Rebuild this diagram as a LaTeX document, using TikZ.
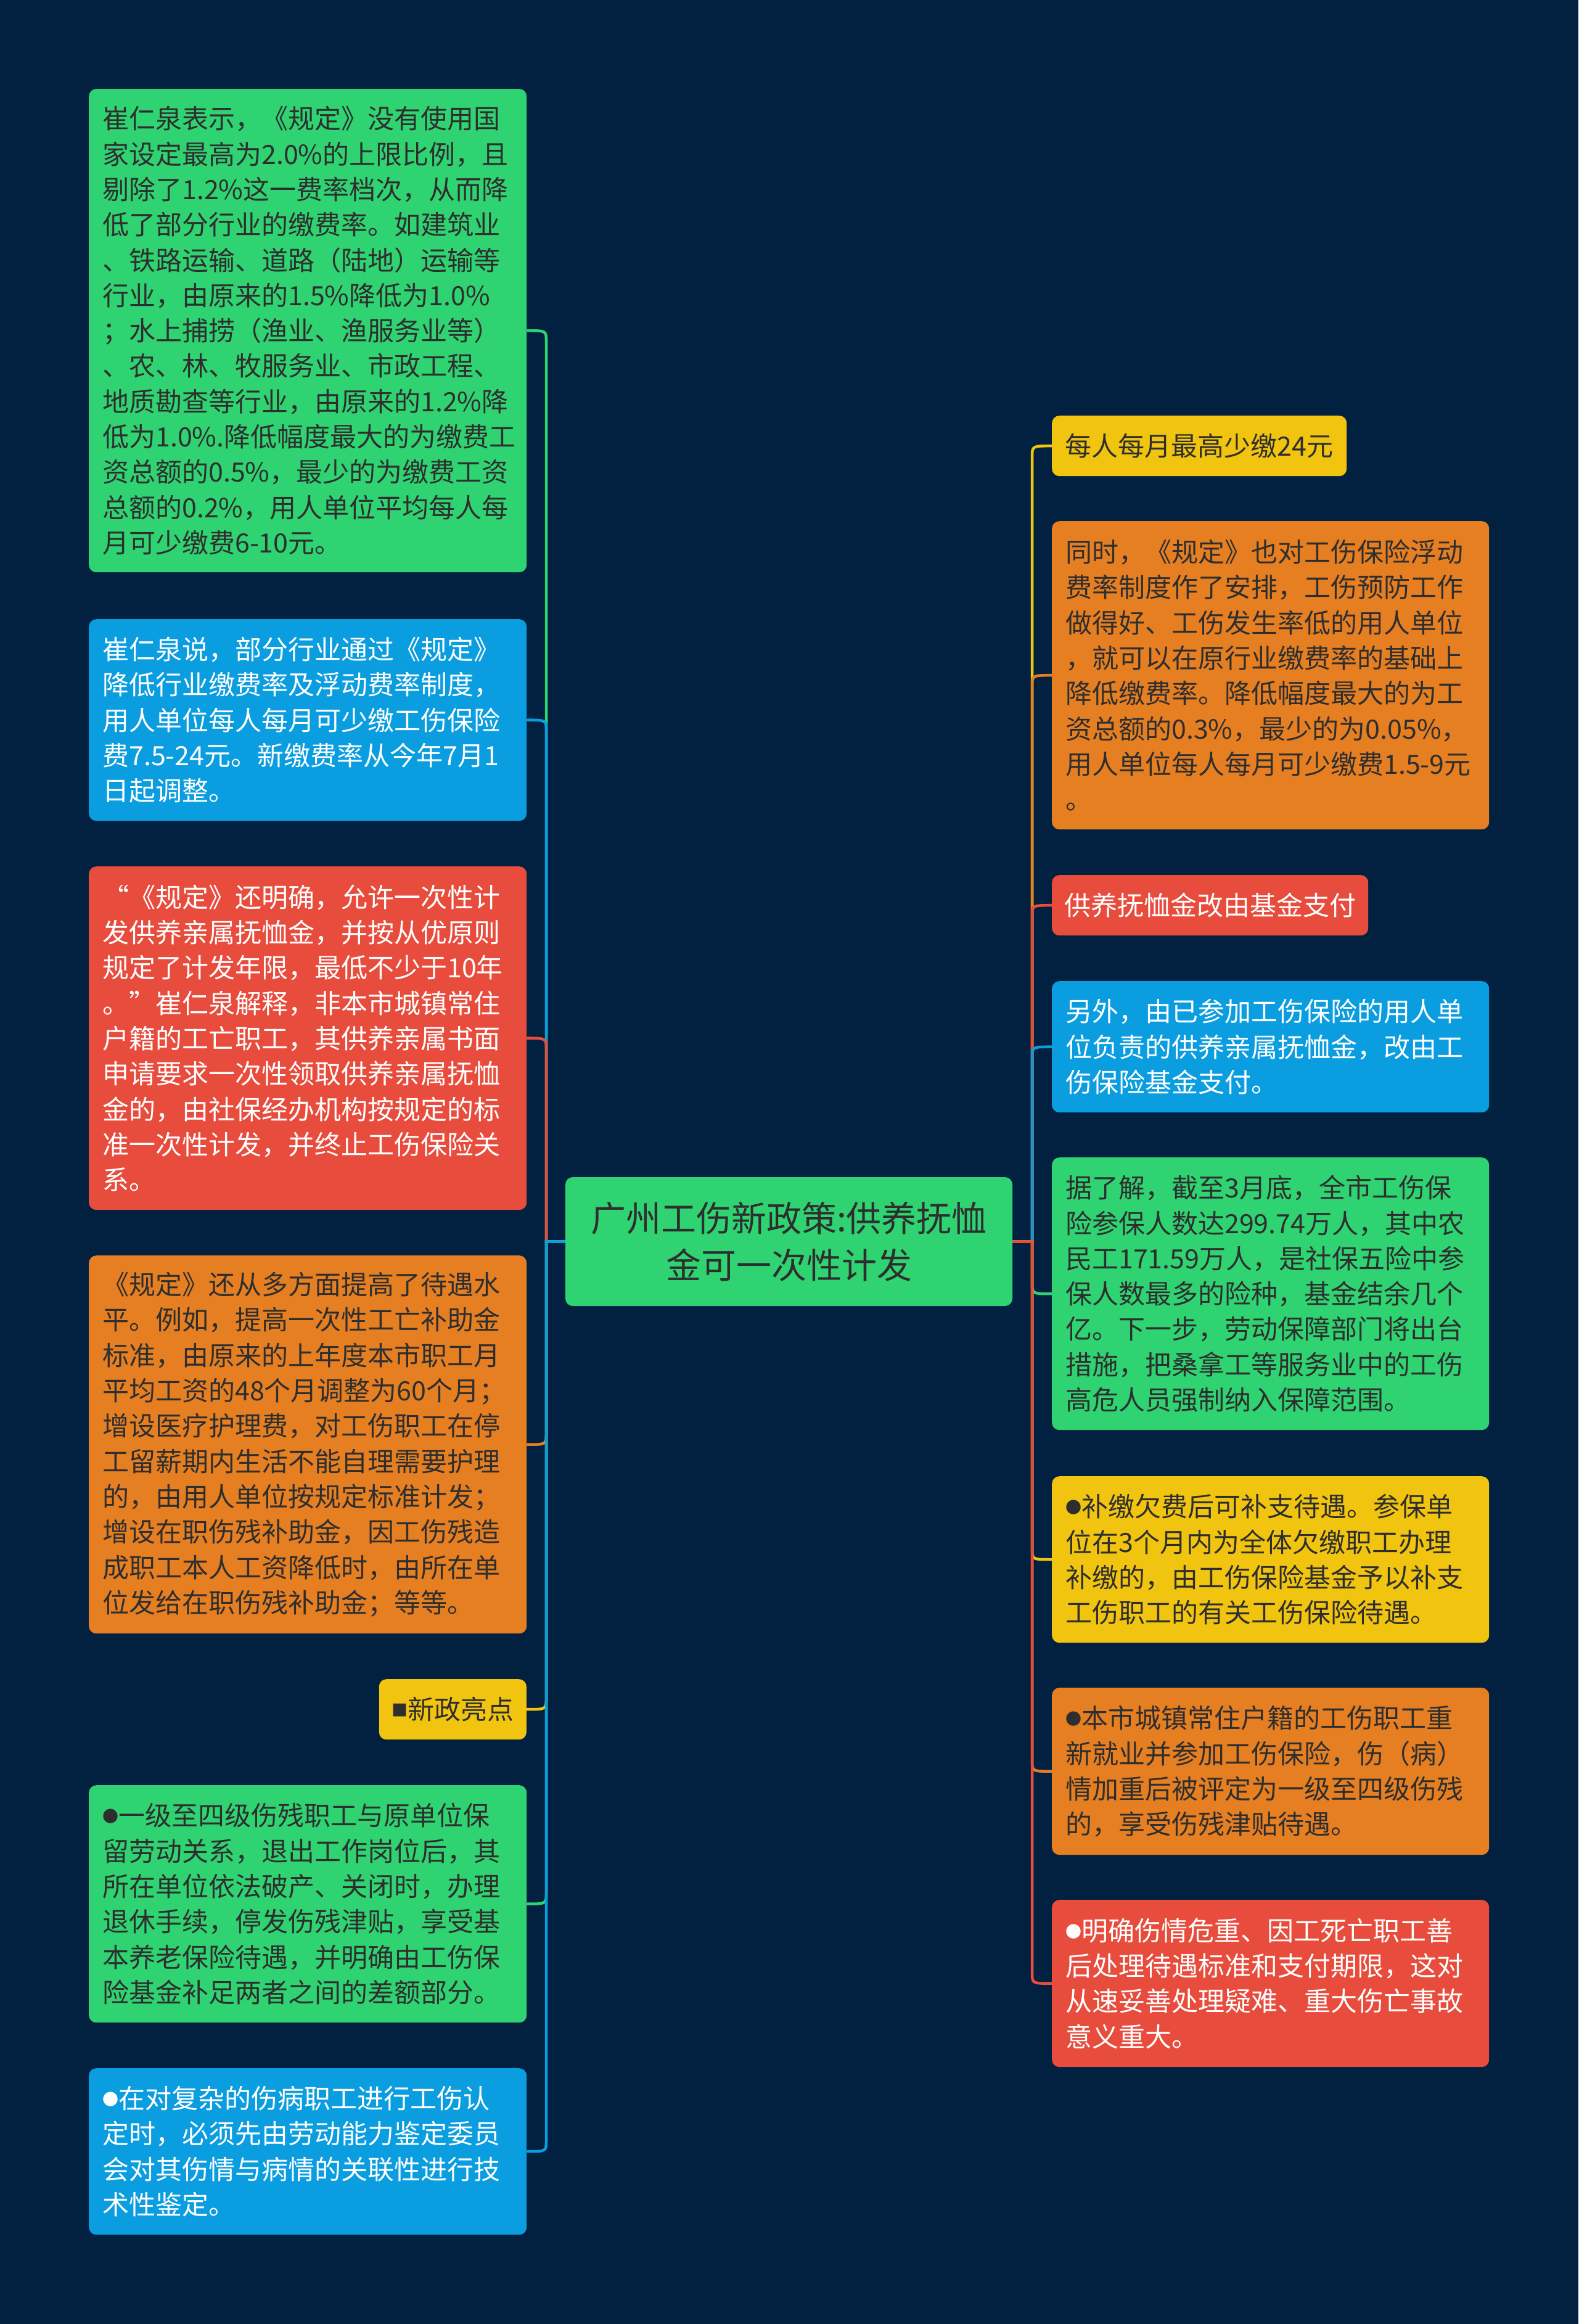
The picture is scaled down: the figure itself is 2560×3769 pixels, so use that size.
\documentclass[tikz,border=0pt]{standalone}
\usepackage{fontspec}
\newfontfamily\cjk{Noto Sans CJK SC}
\usetikzlibrary{calc}
\definecolor{cbg}{HTML}{022140}
\definecolor{cgreen}{HTML}{2FD372}
\definecolor{cblue}{HTML}{0A9DE0}
\definecolor{cred}{HTML}{E84C3D}
\definecolor{corange}{HTML}{E67F22}
\definecolor{cyellow}{HTML}{F1C40F}
\definecolor{cdark}{HTML}{2E2E2E}
\newcommand\mydot{\raisebox{5pt}{\fontsize{26}{26}\selectfont ●}}
\newcommand\mysq{\raisebox{5pt}{\fontsize{26}{26}\selectfont ■}}
\tikzset{
  box/.style={rounded corners=12pt, anchor=north west, align=left, inner xsep=22pt, inner ysep=0pt,
    font=\cjk\fontsize{43}{57.3}\selectfont},
  lbox/.style={box, text width=666pt},
  rbox/.style={box, text width=665pt},
  onebox/.style={rounded corners=12pt, inner xsep=20pt, inner ysep=0pt, minimum height=98pt,
    font=\cjk\fontsize{43}{57.3}\selectfont},
  gbox/.style={fill=cgreen, text=cdark},
  bbox/.style={fill=cblue, text=white},
  rdbox/.style={fill=cred, text=white},
  obox/.style={fill=corange, text=cdark},
  ybox/.style={fill=cyellow, text=cdark},
  conn/.style={line width=4.5pt},
}
\begin{document}
\begin{tikzpicture}[x=1pt, y=-1pt]
\fill[cbg] (0,0) rectangle (2560,3769);
\useasboundingbox (0,0) rectangle (2560,3769);

\coordinate (LT) at (886,0);
\coordinate (RT) at (1674,0);

% root
\node[rounded corners=12pt, fill=cgreen, text=cdark, align=center, minimum width=725pt, minimum height=209pt,
  font=\cjk\fontsize{57}{76}\selectfont] (root) at (1279.5,2013.5) {广州工伤新政策:供养抚恤\\金可一次性计发};

% left children
\node[lbox, gbox, minimum height=784pt] (L1) at (144,144) {崔仁泉表示，《规定》没有使用国\\
家设定最高为2.0\%的上限比例，且\\
剔除了1.2\%这一费率档次，从而降\\
低了部分行业的缴费率。如建筑业\\
、铁路运输、道路（陆地）运输等\\
行业，由原来的1.5\%降低为1.0\%\\
；水上捕捞（渔业、渔服务业等）\\
、农、林、牧服务业、市政工程、\\
地质勘查等行业，由原来的1.2\%降\\
低为1.0\%.降低幅度最大的为缴费工\\
资总额的0.5\%，最少的为缴费工资\\
总额的0.2\%，用人单位平均每人每\\
月可少缴费6-10元。};

\node[lbox, bbox, minimum height=327pt] (L2) at (144,1004) {崔仁泉说，部分行业通过《规定》\\
降低行业缴费率及浮动费率制度，\\
用人单位每人每月可少缴工伤保险\\
费7.5-24元。新缴费率从今年7月1\\
日起调整。};

\node[lbox, rdbox, minimum height=557pt] (L3) at (144,1405) {“《规定》还明确，允许一次性计\\
发供养亲属抚恤金，并按从优原则\\
规定了计发年限，最低不少于10年\\
。”崔仁泉解释，非本市城镇常住\\
户籍的工亡职工，其供养亲属书面\\
申请要求一次性领取供养亲属抚恤\\
金的，由社保经办机构按规定的标\\
准一次性计发，并终止工伤保险关\\
系。};

\node[lbox, obox, minimum height=613pt] (L4) at (144,2036) {《规定》还从多方面提高了待遇水\\
平。例如，提高一次性工亡补助金\\
标准，由原来的上年度本市职工月\\
平均工资的48个月调整为60个月；\\
增设医疗护理费，对工伤职工在停\\
工留薪期内生活不能自理需要护理\\
的，由用人单位按规定标准计发；\\
增设在职伤残补助金，因工伤残造\\
成职工本人工资降低时，由所在单\\
位发给在职伤残补助金；等等。};

\node[onebox, ybox, anchor=north east, minimum width=239pt] (L5) at (854,2723) {\mysq 新政亮点};

\node[lbox, gbox, minimum height=385pt] (L6) at (144,2895) {\mydot 一级至四级伤残职工与原单位保\\
留劳动关系，退出工作岗位后，其\\
所在单位依法破产、关闭时，办理\\
退休手续，停发伤残津贴，享受基\\
本养老保险待遇，并明确由工伤保\\
险基金补足两者之间的差额部分。};

\node[lbox, bbox, minimum height=270pt] (L7) at (144,3354) {\mydot 在对复杂的伤病职工进行工伤认\\
定时，必须先由劳动能力鉴定委员\\
会对其伤情与病情的关联性进行技\\
术性鉴定。};

% right children
\node[onebox, ybox, anchor=north west, minimum width=478pt] (R1) at (1706,674) {每人每月最高少缴24元};

\node[rbox, obox, minimum height=500pt] (R2) at (1706,845) {同时，《规定》也对工伤保险浮动\\
费率制度作了安排，工伤预防工作\\
做得好、工伤发生率低的用人单位\\
，就可以在原行业缴费率的基础上\\
降低缴费率。降低幅度最大的为工\\
资总额的0.3\%，最少的为0.05\%，\\
用人单位每人每月可少缴费1.5-9元\\
。};

\node[onebox, rdbox, anchor=north west, minimum width=513pt] (R3) at (1706,1419) {供养抚恤金改由基金支付};

\node[rbox, bbox, minimum height=213pt] (R4) at (1706,1591) {另外，由已参加工伤保险的用人单\\
位负责的供养亲属抚恤金，改由工\\
伤保险基金支付。};

\node[rbox, gbox, minimum height=442pt] (R5) at (1706,1877) {据了解，截至3月底，全市工伤保\\
险参保人数达299.74万人，其中农\\
民工171.59万人，是社保五险中参\\
保人数最多的险种，基金结余几个\\
亿。下一步，劳动保障部门将出台\\
措施，把桑拿工等服务业中的工伤\\
高危人员强制纳入保障范围。};

\node[rbox, ybox, minimum height=270pt] (R6) at (1706,2394) {\mydot 补缴欠费后可补支待遇。参保单\\
位在3个月内为全体欠缴职工办理\\
补缴的，由工伤保险基金予以补支\\
工伤职工的有关工伤保险待遇。};

\node[rbox, obox, minimum height=271pt] (R7) at (1706,2737) {\mydot 本市城镇常住户籍的工伤职工重\\
新就业并参加工伤保险，伤（病）\\
情加重后被评定为一级至四级伤残\\
的，享受伤残津贴待遇。};

\node[rbox, rdbox, minimum height=271pt] (R8) at (1706,3081) {\mydot 明确伤情危重、因工死亡职工善\\
后处理待遇标准和支付期限，这对\\
从速妥善处理疑难、重大伤亡事故\\
意义重大。};

% left connectors (above root)
\draw[conn, cgreen] (root.west) -- (root.west -| LT) -- ($(L1.east -| LT)+(0,18)$) .. controls (L1.east -| LT) .. (L1.east);
\draw[conn, cblue] (root.west) -- (root.west -| LT) -- ($(L2.east -| LT)+(0,18)$) .. controls (L2.east -| LT) .. (L2.east);
\draw[conn, cred] (root.west) -- (root.west -| LT) -- ($(L3.east -| LT)+(0,18)$) .. controls (L3.east -| LT) .. (L3.east);
% left connectors (below root)
\draw[conn, corange] (root.west) -- (root.west -| LT) -- ($(L4.east -| LT)+(0,-18)$) .. controls (L4.east -| LT) .. (L4.east);
\draw[conn, cyellow] (root.west) -- (root.west -| LT) -- ($(L5.east -| LT)+(0,-18)$) .. controls (L5.east -| LT) .. (L5.east);
\draw[conn, cgreen] (root.west) -- (root.west -| LT) -- ($(L6.east -| LT)+(0,-18)$) .. controls (L6.east -| LT) .. (L6.east);
\draw[conn, cblue] (root.west) -- (root.west -| LT) -- ($(L7.east -| LT)+(0,-18)$) .. controls (L7.east -| LT) .. (L7.east);

% right connectors (above root)
\draw[conn, cyellow] (root.east) -- (root.east -| RT) -- ($(R1.west -| RT)+(0,18)$) .. controls (R1.west -| RT) .. (R1.west);
\draw[conn, corange] (root.east) -- (root.east -| RT) -- ($(R2.west -| RT)+(0,18)$) .. controls (R2.west -| RT) .. (R2.west);
\draw[conn, cred] (root.east) -- (root.east -| RT) -- ($(R3.west -| RT)+(0,18)$) .. controls (R3.west -| RT) .. (R3.west);
\draw[conn, cblue] (root.east) -- (root.east -| RT) -- ($(R4.west -| RT)+(0,18)$) .. controls (R4.west -| RT) .. (R4.west);
% right connectors (below root)
\draw[conn, cgreen] (root.east) -- (root.east -| RT) -- ($(R5.west -| RT)+(0,-18)$) .. controls (R5.west -| RT) .. (R5.west);
\draw[conn, cyellow] (root.east) -- (root.east -| RT) -- ($(R6.west -| RT)+(0,-18)$) .. controls (R6.west -| RT) .. (R6.west);
\draw[conn, corange] (root.east) -- (root.east -| RT) -- ($(R7.west -| RT)+(0,-18)$) .. controls (R7.west -| RT) .. (R7.west);
\draw[conn, cred] (root.east) -- (root.east -| RT) -- ($(R8.west -| RT)+(0,-18)$) .. controls (R8.west -| RT) .. (R8.west);
\end{tikzpicture}
\end{document}
